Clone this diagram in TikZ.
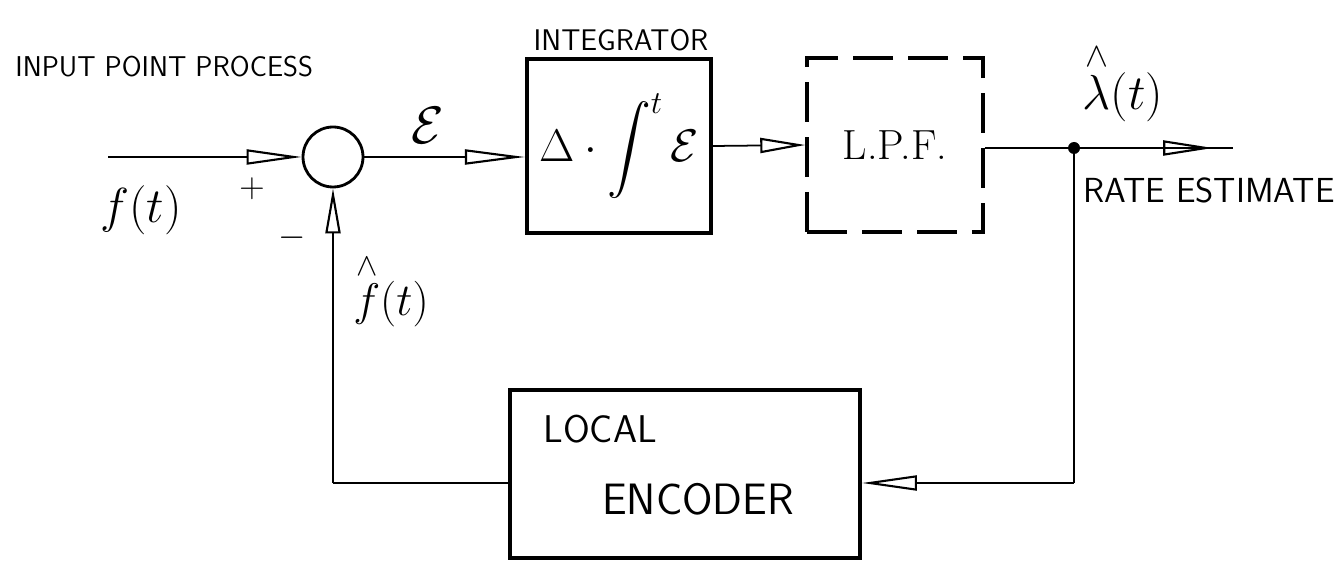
\RequirePackage{fix-cm}
\documentclass[tikz,border=0pt]{standalone}
\usepackage{amsmath}
\usepackage{fontspec}
\usetikzlibrary{arrows.meta,decorations.markings}

\tikzset{
  wire/.style={line width=1pt},
  arrowend/.style={-{Triangle[open,length=#1,width=0.3cm,line width=1.2pt]}},
  midarrow/.style={postaction={decorate},
    decoration={markings,mark=at position #1 with {\arrow{Triangle[open,length=1cm,width=0.3cm,line width=1.2pt]}}}},
  sumjct/.style={circle,draw,line width=1.6pt,minimum size=1.2cm,inner sep=0pt},
  intblock/.style={draw,line width=2.4pt,minimum width=3.68cm,minimum height=3.48cm,inner sep=0pt},
  lpfblock/.style={draw,line width=2pt,dash pattern=on 0.8cm off 0.3cm,minimum width=3.52cm,minimum height=3.48cm},
  encblock/.style={draw,line width=2.2pt,minimum width=7cm,minimum height=3.36cm},
  caps/.style={font=\sffamily\fontsize{#1}{#1}\selectfont,inner sep=0pt},
  sym/.style={font=\fontsize{#1}{#1}\selectfont,inner sep=0pt},
}

\begin{document}
\begin{tikzpicture}[x=0.02cm,y=-0.02cm]
  \useasboundingbox (0,0) rectangle (1339,567);

  % Blocks
  \node[sumjct] (sum) at (333,157) {};
  \node[intblock] (integ) at (619,146) {\fontsize{26}{30}\selectfont$\Delta\cdot\displaystyle\int^{t}\mathcal{E}$};
  \node[lpfblock] (lpf) at (895,145) {\fontsize{24}{28}\selectfont L.P.F.};
  \node[encblock] (enc) at (685,474) {};

  % Labels
  \node[caps=16.3,anchor=west] (inlab) at (15,67) {INPUT POINT PROCESS};
  \node[sym=28] (flab) at (141,210) {$f(t)$};
  \node[sym=20] (plus) at (252,189) {$+$};
  \node[sym=20] (minus) at (292,238) {$-$};
  \node[sym=30] (elab) at (428,125) {$\mathcal{E}$};
  \node[caps=17] (intlab) at (621,40) {INTEGRATOR};
  \node[sym=28] (lamlab) at (1123,82) {$\overset{\wedge}{\lambda}(t)$};
  \node[caps=19.8,anchor=west] (ratelab) at (1083,190) {RATE ESTIMATE};
  \node[sym=26] (fhatlab) at (391,290) {$\overset{\wedge}{f}(t)$};
  \node[caps=22,anchor=west] (loclab) at (543,429) {LOCAL};
  \node[caps=25,anchor=west] (enclab) at (602,499) {ENCODER};

  % Signal path
  \coordinate (in) at (108,157);
  \coordinate (split) at (1074,148);
  \coordinate (out) at (1233,148);
  \coordinate (fbr) at (1074,483);
  \coordinate (fbl) at (333,483);

  \draw[wire,arrowend=1.1cm] (in) -- (sum.west);
  \draw[wire,arrowend=1.2cm] (sum.east) -- (sum.east -| integ.west);
  \draw[wire,arrowend=0.9cm] (integ.east) -- (lpf.west);
  \draw[wire,midarrow=0.92] (lpf.east |- split) -- (out);
  \fill (split) circle (0.12cm);

  % Feedback loop
  \draw[wire] (split) -- (fbr);
  \draw[wire,arrowend=1.1cm] (fbr) -- (fbr -| enc.east);
  \draw[wire] (fbr -| enc.west) -- (fbl);
  \draw[wire,arrowend=0.9cm] (fbl) -- (sum.south);
\end{tikzpicture}
\end{document}
